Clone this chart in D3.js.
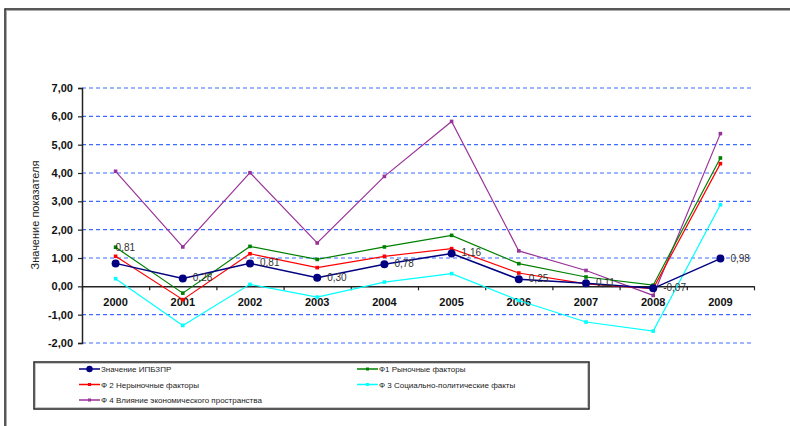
<!DOCTYPE html>
<meta charset="utf-8">
<style>
body { margin: 0; background: #fff; }
svg { font-family: Arial, "Liberation Sans", sans-serif; }
.tick-y text, .year { font-size: 11px; font-weight: bold; fill: #111; }
.dlabel { font-size: 10px; fill: #333; }
.leg text { font-size: 8px; fill: #222; }
</style>
<body>
<svg width="790" height="426"></svg>
<script src="https://d3js.org/d3.v7.min.js"></script>
<script>
// data
var years = ["2000","2001","2002","2003","2004","2005","2006","2007","2008","2009"];
var ipbzpr = [0.81, 0.28, 0.81, 0.30, 0.78, 1.16, 0.25, 0.11, -0.07, 0.98];
var f1 = [1.38, -0.24, 1.41, 0.95, 1.39, 1.80, 0.80, 0.33, 0.04, 4.53];
var f2 = [1.06, -0.47, 1.15, 0.66, 1.06, 1.33, 0.47, 0.09, -0.08, 4.33];
var f3 = [0.27, -1.38, 0.07, -0.38, 0.15, 0.45, -0.50, -1.26, -1.58, 2.88];
var f4 = [4.06, 1.39, 4.01, 1.53, 3.88, 5.82, 1.25, 0.56, -0.32, 5.39];
var yTicks = [-2, -1, 0, 1, 2, 3, 4, 5, 6, 7];
var seriesNames = ["Значение ИПБЗПР", "Ф1  Рыночные факторы", "Ф 2 Нерыночные факторы",
                   "Ф 3 Социально-политические факты", "Ф 4 Влияние экономического пространства"];
var seriesColors = ["#000080", "#008000", "#ff0000", "#00ffff", "#993399"];

var series = [ipbzpr, f1, f2, f3, f4].map(function(v, i) {
    return {name: seriesNames[i], color: seriesColors[i], values: v, main: i === 0};
});

var svg = d3.select("svg");
var plotLeft = 82, plotRight = 754, plotTop = 88, plotBottom = 343;

var x = d3.scaleBand().domain(years).range([plotLeft, plotRight]).padding(0);
var xi = d3.scaleLinear().domain([0, years.length]).range([plotLeft, plotRight]);
var y = d3.scaleLinear().domain([-2, 7]).range([plotBottom, plotTop]);
var loc = d3.formatLocale({decimal: ",", thousands: " ", grouping: [3], currency: ["", ""], minus: "-"});
var fmt = loc.format(".2f");

// outer frame
svg.append("rect").attr("x", 5).attr("y", 9).attr("width", 900).attr("height", 600)
    .attr("fill", "none").attr("stroke", "#222").attr("stroke-width", 1.5);
svg.append("rect").attr("x", 6.5).attr("y", 10.5).attr("width", 900).attr("height", 600)
    .attr("fill", "none").attr("stroke", "#aaa").attr("stroke-width", 1);

// grid
svg.append("g").selectAll("line")
    .data(yTicks.filter(function(d) { return d !== 0; }))
    .enter().append("line")
    .attr("x1", plotLeft).attr("x2", plotRight)
    .attr("y1", function(d) { return y(d); }).attr("y2", function(d) { return y(d); })
    .attr("stroke", "#3d6bff").attr("stroke-width", 1.2)
    .attr("stroke-dasharray", "4,3");

// y axis
var gy = svg.append("g").attr("class", "tick-y")
    .attr("transform", "translate(" + plotLeft + ",0)")
    .call(d3.axisLeft(y).tickValues(yTicks).tickSize(4).tickPadding(5).tickFormat(fmt));
gy.select(".domain").attr("stroke", "#222").attr("stroke-width", 1.5);
gy.selectAll(".tick line").attr("stroke", "#222").attr("stroke-width", 1.2);
gy.selectAll("text").attr("font-family", "Arial, sans-serif");

// x axis (ticks between categories)
var gx = svg.append("g")
    .attr("transform", "translate(0," + y(0) + ")")
    .call(d3.axisBottom(xi).tickValues(d3.range(years.length + 1)).tickSize(4).tickSizeOuter(0).tickFormat(""));
gx.select(".domain").attr("stroke", "#222").attr("stroke-width", 1.5);
gx.selectAll(".tick line").attr("stroke", "#222").attr("stroke-width", 1.2);

svg.append("g").selectAll("text")
    .data(years).enter().append("text")
    .attr("class", "year")
    .attr("x", function(d) { return x(d) + x.bandwidth() / 2; })
    .attr("y", y(0) + 20)
    .attr("text-anchor", "middle")
    .text(function(d) { return d; });

// y title
svg.append("text")
    .attr("transform", "translate(39,215) rotate(-90)")
    .attr("text-anchor", "middle")
    .style("font-size", "11px").style("fill", "#222")
    .text("Значение показателя");

// lines
var line = d3.line()
    .x(function(d, i) { return x(years[i]) + x.bandwidth() / 2; })
    .y(function(d) { return y(d); });

var drawOrder = [4, 3, 1, 2, 0];
drawOrder.forEach(function(k) {
    var s = series[k];
    var g = svg.append("g");
    g.append("path").datum(s.values)
        .attr("d", line).attr("fill", "none")
        .attr("stroke", s.color).attr("stroke-width", s.main ? 1.5 : 1.2);
    if (s.main) {
        g.selectAll("circle").data(s.values).enter().append("circle")
            .attr("cx", function(d, i) { return x(years[i]) + x.bandwidth() / 2; })
            .attr("cy", function(d) { return y(d); })
            .attr("r", 4).attr("fill", s.color);
    } else {
        g.selectAll("rect").data(s.values).enter().append("rect")
            .attr("x", function(d, i) { return x(years[i]) + x.bandwidth() / 2 - 1.8; })
            .attr("y", function(d) { return y(d) - 1.8; })
            .attr("width", 3.6).attr("height", 3.6).attr("fill", s.color);
    }
});

// data labels for main series (first one sits above its point)
svg.append("g").selectAll("text")
    .data(ipbzpr).enter().append("text")
    .attr("class", "dlabel")
    .attr("x", function(d, i) { return x(years[i]) + x.bandwidth() / 2 + (i === 0 ? 0 : 10); })
    .attr("y", function(d, i) { return y(d) + (i === 0 ? -12 : 3); })
    .text(function(d) { return fmt(d); });

// legend
var leg = svg.append("g").attr("class", "leg");
leg.append("rect").attr("x", 34).attr("y", 362).attr("width", 555).attr("height", 47)
    .attr("fill", "#fff").attr("stroke", "#222").attr("stroke-width", 1.5);
leg.append("rect").attr("x", 35.5).attr("y", 363.5).attr("width", 552).attr("height", 44)
    .attr("fill", "none").attr("stroke", "#bbb").attr("stroke-width", 0.8);

var legX = [79, 357], legY = [369, 384.5, 400];
var item = leg.selectAll("g.item").data(series).enter().append("g")
    .attr("class", "item")
    .attr("transform", function(d, i) {
        return "translate(" + legX[i % 2] + "," + legY[Math.floor(i / 2)] + ")";
    });
item.append("line").attr("x1", 0).attr("x2", 21)
    .attr("stroke", function(d) { return d.color; }).attr("stroke-width", 1.5);
item.filter(function(d) { return d.main; }).append("circle")
    .attr("cx", 10.5).attr("r", 3.2).attr("fill", function(d) { return d.color; });
item.filter(function(d) { return !d.main; }).append("rect")
    .attr("x", 9).attr("y", -1.5).attr("width", 3).attr("height", 3)
    .attr("fill", function(d) { return d.color; });
item.append("text").attr("x", 22).attr("y", 3)
    .text(function(d) { return d.name; });
</script>
</body>
